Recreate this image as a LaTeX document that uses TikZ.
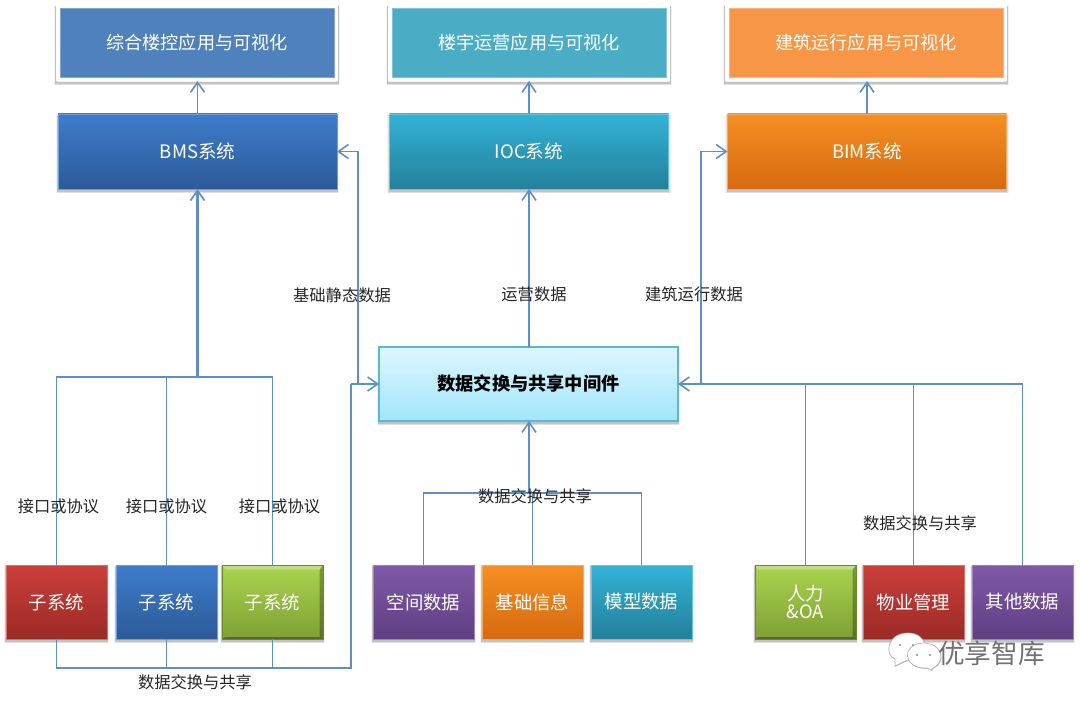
\documentclass[tikz,border=0pt]{standalone}
\usepackage{fontspec}
\setmainfont{Noto Sans CJK SC}
\usetikzlibrary{arrows.meta,shadows}
\def\px{0.75pt}
\definecolor{linec}{HTML}{5E8FCB}
\definecolor{txtc}{HTML}{262626}
\definecolor{flatblue}{HTML}{4F81BD}
\definecolor{flatteal}{HTML}{4BACC6}
\definecolor{flatorange}{HTML}{F79646}
\definecolor{redT}{HTML}{CC3F3B}\definecolor{redB}{HTML}{9B2A26}
\definecolor{blueT}{HTML}{3E7DCB}\definecolor{blueB}{HTML}{2C5A98}
\definecolor{purpleT}{HTML}{8058A8}\definecolor{purpleB}{HTML}{5F3F83}
\definecolor{orangeT}{HTML}{F58F22}\definecolor{orangeB}{HTML}{D66A10}
\definecolor{tealT}{HTML}{33B2D6}\definecolor{tealB}{HTML}{23809A}
\definecolor{greenT}{HTML}{AAD44F}\definecolor{greenB}{HTML}{7F9F35}
\definecolor{greenE}{HTML}{6B8A2B}
\definecolor{midT}{HTML}{DDF6FF}\definecolor{midB}{HTML}{A2E6FB}\definecolor{midE}{HTML}{5BB7D2}
\tikzset{
  every node/.style={inner sep=0pt,outer sep=0pt,align=center},
  conn/.style={draw=linec,line width=1.3pt,line join=miter},
  thickconn/.style={conn,line width=2pt},
  arr/.style={-{Straight Barb[length=7.5pt,width=10.5pt,line width=1.2pt]}},
  sized/.style 2 args={minimum width=#1*\px,minimum height=#2*\px},
  softshadow/.style={
    preaction={draw=black,draw opacity=.05,line width=3.4pt,transform canvas={yshift=-1.6pt}},
    preaction={draw=black,draw opacity=.08,line width=2.2pt,transform canvas={yshift=-1.6pt}},
    preaction={draw=black,draw opacity=.12,line width=1pt,transform canvas={yshift=-1.6pt}}},
  grad/.style 2 args={softshadow,top color=#1,bottom color=#2,draw=#1!75!white,line width=.6pt,text=white},
  wide/.style={sized={279}{75},font=\fontsize{13.9pt}{15pt}\selectfont},
  small/.style={sized={101}{74},font=\fontsize{13.8pt}{16pt}\selectfont},
  frame/.style={sized={282}{76},softshadow,fill=white},
  flat/.style={sized={274}{69},fill=#1,draw=#1!70!white,line width=.6pt,text=white,font=\fontsize{13.6pt}{16pt}\selectfont},
  lab/.style={text=txtc,font=\fontsize{12.2pt}{14pt}\selectfont},
  redbox/.style={grad={redT}{redB}},
  bluebox/.style={grad={blueT}{blueB}},
  purplebox/.style={grad={purpleT}{purpleB}},
  orangebox/.style={grad={orangeT}{orangeB}},
  tealbox/.style={grad={tealT}{tealB}},
  greenbox/.style={grad={greenT}{greenB},draw=greenE,
    path picture={
      \fill[white,opacity=.28] (path picture bounding box.north west) -- (path picture bounding box.north east)
        -- ([xshift=-2.5pt,yshift=-3.5pt]path picture bounding box.north east) -- ([xshift=2.5pt,yshift=-3.5pt]path picture bounding box.north west) -- cycle;
      \fill[black,opacity=.28] (path picture bounding box.south east) -- (path picture bounding box.north east)
        -- ([xshift=-2.5pt,yshift=-3.5pt]path picture bounding box.north east) -- ([xshift=-2.5pt,yshift=1.5pt]path picture bounding box.south east) -- cycle;
      \fill[black,opacity=.32] (path picture bounding box.south west) -- (path picture bounding box.south east)
        -- ([xshift=-2.5pt,yshift=1.5pt]path picture bounding box.south east) -- ([xshift=2.5pt,yshift=1.5pt]path picture bounding box.south west) -- cycle;
    }},
  wmbubble/.style={fill=white,draw=black!30,line width=.5pt,drop shadow={shadow xshift=.4pt,shadow yshift=-.6pt,fill=black,opacity=.25}},
}
\begin{document}
\begin{tikzpicture}[x=0.75pt,y=-0.75pt]
\useasboundingbox (0,0) rectangle (1080,702);
\fill[white] (0,0) rectangle (1080,702);

% top application boxes
\node[frame] (f1) at (197,43) {};
\node[frame] (f2) at (529,43) {};
\node[frame] (f3) at (866,43) {};
\node[flat=flatblue] (t1) at (197,42.5) {综合楼控应用与可视化};
\node[flat=flatteal] (t2) at (529,42.5) {楼宇运营应用与可视化};
\node[flat=flatorange] (t3) at (866,42.5) {建筑运行应用与可视化};

% systems
\node[wide,bluebox] (bms) at (197.5,151.5) {BMS系统};
\node[wide,tealbox] (ioc) at (529,151.5) {IOC系统};
\node[wide,orangebox] (bim) at (867,151.5) {BIM系统};

% middleware
\node[sized={299}{74},softshadow,top color=midT,bottom color=midB,draw=midE,line width=1pt,text=black,font=\fontsize{13.65pt}{15pt}\selectfont\bfseries] (mid) at (528.5,384) {数据交换与共享中间件};

% subsystems
\node[small,redbox] (s1) at (56.5,602) {子系统};
\node[small,bluebox] (s2) at (166.5,602) {子系统};
\node[small,greenbox] (s3) at (272.5,602) {子系统};

\node[small,purplebox] (d1) at (423.5,602) {空间数据};
\node[small,orangebox] (d2) at (532.5,602) {基础信息};
\node[small,tealbox] (d3) at (641.5,602) {模型数据};

\node[small,greenbox] (r1) at (805.5,602) {人力\\[-2pt]\&OA};
\node[small,redbox] (r2) at (913.5,602) {物业管理};
\node[small,purplebox] (r3) at (1022.5,602) {其他数据};

% junctions
\coordinate (jbus) at (197.5,377);
\coordinate (jb1) at (56.5,377);
\coordinate (jb3) at (272.5,377);
\coordinate (jlow1) at (56.5,668);
\coordinate (jlow2) at (166.5,668);
\coordinate (jlow3) at (272.5,668);
\coordinate (jlowr) at (351,668);
\coordinate (jup) at (351,384);
\coordinate (jstat) at (358,384);
\coordinate (jstat2) at (358,151.5);
\coordinate (jrun) at (701,384);
\coordinate (jrun2) at (701,151.5);
\coordinate (jrr) at (1022.5,384);
\coordinate (jr1) at (805.5,384);
\coordinate (jr2) at (913.5,384);
\coordinate (jm) at (529,493);
\coordinate (jm1) at (423.5,493);
\coordinate (jm2) at (532.5,493);
\coordinate (jm3) at (641.5,493);

% connectors up top
\draw[conn,arr] (bms.north) -- (bms.north |- f1.south);
\draw[conn,arr] (ioc.north) -- (ioc.north |- f2.south);
\draw[conn,arr] (bim.north) -- (bim.north |- f3.south);

% subsystem bus to BMS
\draw[conn] (s1.north) -- (jb1) -- (jb3) -- (s3.north);
\draw[conn] (s2.north) -- (s2.north |- jb1);
\draw[thickconn,-{Straight Barb[length=7.5pt,width=10.5pt,line width=1.3pt]}] (jbus) -- (bms.south);

% subsystem bus to middleware
\draw[conn] (s1.south) -- (jlow1) -- (jlowr);
\draw[conn] (s2.south) -- (jlow2);
\draw[conn] (s3.south) -- (jlow3);
\draw[thickconn] (jlow3) -- (jlowr) -- (jup);
\draw[conn,arr] (jup) -- (mid.west);

% middleware outputs
\draw[conn,arr] (jstat) -- (jstat2) -- (bms.east);
\draw[conn,arr] (mid.north -| ioc.south) -- (ioc.south);
\draw[conn,arr] (jrun) -- (jrun2) -- (bim.west);

% right side data
\draw[conn,arr] (r3.north) -- (jrr) -- (mid.east);
\draw[conn] (r1.north) -- (jr1);
\draw[conn] (r2.north) -- (jr2);

% bottom data
\draw[conn,arr] (jm) -- (jm |- mid.south);
\draw[conn] (d1.north) -- (jm1) -- (jm3) -- (d3.north);
\draw[conn] (d2.north) -- (jm2);

% labels
\node[lab] (l1) at (342,295) {基础静态数据};
\node[lab] (l2) at (534,294.5) {运营数据};
\node[lab] (l3) at (694,294.5) {建筑运行数据};
\node[lab] (l4) at (58.5,506) {接口或协议};
\node[lab] (l5) at (166.5,506) {接口或协议};
\node[lab] (l6) at (279.5,506) {接口或协议};
\node[lab] (l7) at (535,496) {数据交换与共享};
\node[lab] (l8) at (920,523) {数据交换与共享};
\node[lab] (l9) at (195,682) {数据交换与共享};

% watermark
\path[wmbubble] (905,661) -- (895,666) -- (895,659) .. controls (884,655) and (887,633) .. (908,633) .. controls (926,633) and (930,651) .. (919,657) -- cycle;
\path[wmbubble] (925,668) .. controls (903,668) and (901,644) .. (923,643) .. controls (943,643) and (946,662) .. (933,668) -- (931,670) -- (927,668) -- cycle;
\fill[black!45] (900,645) circle (1.2) (913,645) circle (1.2) (917,655) circle (1.2) (930,655) circle (1.2);
\node[text=black!55,font=\fontsize{20pt}{22pt}\selectfont] (wm) at (991.5,653) {优享智库};
\end{tikzpicture}
\end{document}
